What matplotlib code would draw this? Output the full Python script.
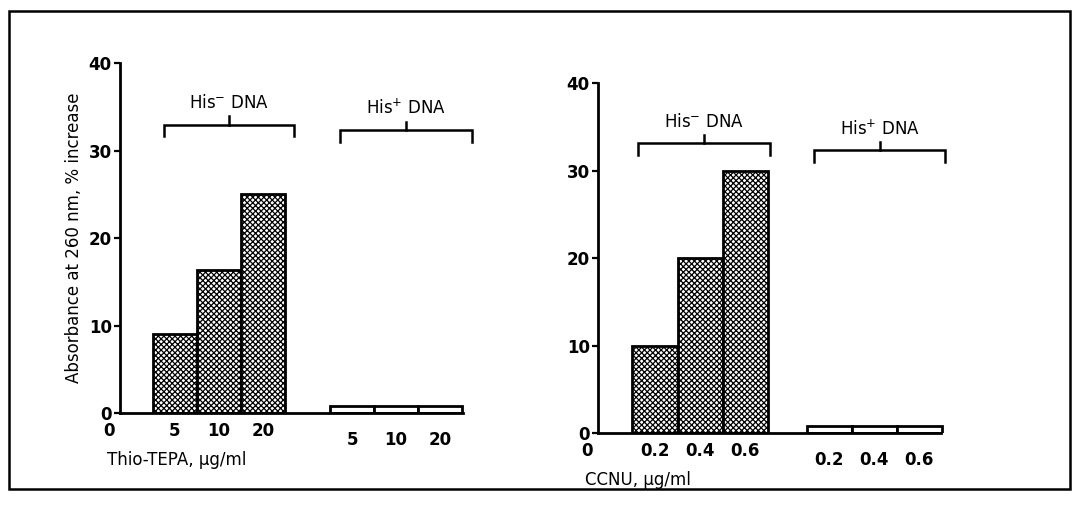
import matplotlib
matplotlib.use("Agg")
import matplotlib.pyplot as plt
from matplotlib.patches import Rectangle

plt.rcParams['font.family'] = ['DejaVu Sans']
plt.rcParams['hatch.linewidth'] = 0.9

# Data
thio_doses = ["5", "10", "20"]
thio_his_minus = [9.0, 16.3, 25.0]
thio_his_plus = [0.8, 0.8, 0.8]
ccnu_doses = ["0.2", "0.4", "0.6"]
ccnu_his_minus = [10.0, 20.0, 30.0]
ccnu_his_plus = [0.8, 0.8, 0.8]
yticks = [0, 10, 20, 30, 40]

fig = plt.figure(figsize=(10.72, 5.29), dpi=100)

# outer frame
fig.add_artist(Rectangle((0.008, 0.075), 0.99, 0.905, transform=fig.transFigure,
                         fill=False, lw=1.8, ec='black'))

def panel(ax, doses, minus, plus, start_minus, start_plus, xend, xlabel,
          br_minus, br_plus):
    w = 1.0
    xm = [start_minus + w / 2 + i * w for i in range(len(minus))]
    xp = [start_plus + w / 2 + i * w for i in range(len(plus))]
    ax.bar(xm, minus, width=w, facecolor='white', edgecolor='black',
           hatch='xxxxxx', lw=2.0)
    ax.bar(xp, plus, width=w, facecolor='white', edgecolor='black', lw=2.0)
    ax.set_ylim(0, 40)
    ax.set_xlim(0, xend + 0.6)
    for s in ['top', 'right']:
        ax.spines[s].set_visible(False)
    ax.spines['left'].set_linewidth(2.0)
    ax.spines['bottom'].set_linewidth(2.0)
    ax.spines['bottom'].set_bounds(0, xend)
    ax.set_yticks(yticks)
    ax.set_yticklabels([str(t) for t in yticks], fontsize=12, fontweight='bold')
    ax.tick_params(axis='y', direction='out', length=4, width=1.6, pad=2)
    ax.set_xticks([])
    # x labels
    ax.text(-0.25, -1.0, "0", ha='center', va='top', fontsize=12, fontweight='bold')
    for x, d in zip(xm, doses):
        ax.text(x, -1.0, d, ha='center', va='top', fontsize=12, fontweight='bold')
    for x, d in zip(xp, doses):
        ax.text(x, -2.0, d, ha='center', va='top', fontsize=12, fontweight='bold')
    ax.text(-0.3, -4.3, xlabel, ha='left', va='top', fontsize=12)
    # brackets
    for (x0, x1, yb, lab) in (br_minus + ("His$^{-}$ DNA",), br_plus + ("His$^{+}$ DNA",)):
        ax.plot([x0, x0, x1, x1], [yb - 1.3, yb, yb, yb - 1.3], color='black',
                lw=1.8, clip_on=False, solid_joinstyle='miter')
        xc = (x0 + x1) / 2
        ax.plot([xc, xc], [yb, yb + 1.0], color='black', lw=1.8, clip_on=False)
        ax.text(xc, yb + 2.5, lab, ha='center', va='center', fontsize=12)

axL = fig.add_axes([0.112, 0.219, 0.345, 0.662])
panel(axL, thio_doses, thio_his_minus, thio_his_plus, 0.74, 4.77, 7.8,
      "Thio-TEPA, µg/ml", (1.0, 3.95, 32.9), (5.0, 8.0, 32.3))
axL.set_ylabel("Absorbance at 260 nm, % increase", fontsize=12, labelpad=4)

axR = fig.add_axes([0.558, 0.181, 0.345, 0.662])
panel(axR, ccnu_doses, ccnu_his_minus, ccnu_his_plus, 0.76, 4.62, 7.6,
      "CCNU, µg/ml", (0.89, 3.8, 33.1), (4.78, 7.7, 32.3))

fig.savefig("out.png", dpi=100)
